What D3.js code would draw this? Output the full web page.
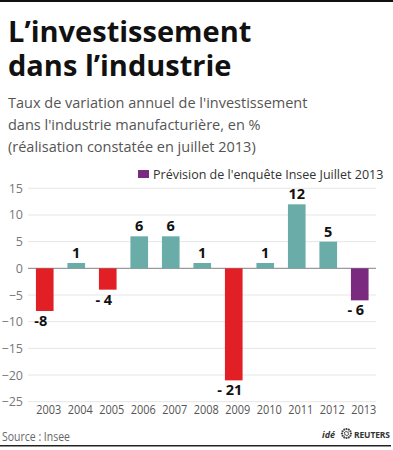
<!DOCTYPE html>
<html>
<head>
<meta charset="utf-8">
<script src="https://cdn.jsdelivr.net/npm/d3@7"></script>
<style>
  body { margin: 0; background: #fff; }
  svg { display: block; font-family: "Open Sans", "Noto Sans", sans-serif; }
</style>
</head>
<body>
<svg id="chart"></svg>
<script>
const width = 393, height = 450;

// data
const years = ["2003", "2004", "2005", "2006", "2007", "2008", "2009", "2010", "2011", "2012", "2013"];
const values = [-8, 1, -4, 6, 6, 1, -21, 1, 12, 5, -6];
const valueLabels = ["-8", "1", "- 4", "6", "6", "1", "- 21", "1", "12", "5", "- 6"];
const forecast = [false, false, false, false, false, false, false, false, false, false, true];
const yTicks = [15, 10, 5, 0, -5, -10, -15, -20, -25];

const red = "#e31f26", teal = "#6aaca8", purple = "#7a2b7f";

const svg = d3.select("#chart").attr("width", width).attr("height", height);

// top rule
svg.append("rect").attr("x", 0).attr("y", 0).attr("width", width).attr("height", 2).attr("fill", "#111");

// title
const titleLines = ["L\u2019investissement", "dans l\u2019industrie"];
svg.append("g").selectAll("text")
    .data(titleLines)
    .enter().append("text")
    .attr("x", 8)
    .attr("y", (d, i) => 42 + i * 34)
    .attr("font-size", 29)
    .attr("font-weight", "bold")
    .attr("fill", "#111")
    .text(d => d);

// subtitle
const subLines = [
    "Taux de variation annuel de l'investissement",
    "dans l'industrie manufacturière, en %",
    "(réalisation constatée en juillet 2013)"
];
svg.append("g").selectAll("text")
    .data(subLines)
    .enter().append("text")
    .attr("x", 8)
    .attr("y", (d, i) => 108 + i * 22)
    .attr("font-size", 14.5)
    .attr("fill", "#555")
    .text(d => d);

// legend
svg.append("rect").attr("x", 138).attr("y", 170).attr("width", 11).attr("height", 8).attr("fill", purple);
svg.append("text")
    .attr("x", 153).attr("y", 178.5)
    .attr("font-size", 12.5)
    .attr("fill", "#333")
    .text("Prévision de l'enquête Insee Juillet 2013");

// scales
const x = d3.scaleBand().domain(years).range([29, 375.5]).paddingInner(0.44).paddingOuter(0.22);
const y = d3.scaleLinear().domain([-25, 15]).range([401.7, 188.3]);

// grid
svg.append("g").selectAll("line")
    .data(yTicks)
    .enter().append("line")
    .attr("x1", 28).attr("x2", 376)
    .attr("y1", d => y(d)).attr("y2", d => y(d))
    .attr("stroke", d => d === 0 ? "#9a9a9a" : "#e6e6e6")
    .attr("stroke-width", d => d === 0 ? 1.2 : 1);

// y labels
const yAxis = svg.append("g")
    .attr("transform", "translate(23,0)")
    .call(d3.axisLeft(y).tickValues(yTicks).tickSize(0).tickPadding(0));
yAxis.select(".domain").remove();
yAxis.selectAll("text")
    .attr("font-family", "\"Open Sans\", sans-serif")
    .attr("font-size", 12.5)
    .attr("fill", "#777");

// x labels
const xAxis = svg.append("g")
    .attr("transform", "translate(4,405)")
    .call(d3.axisBottom(x).tickSize(0).tickPadding(0));
xAxis.select(".domain").remove();
xAxis.selectAll("text")
    .attr("font-family", "\"Open Sans\", sans-serif")
    .attr("font-size", 12.5)
    .attr("fill", "#555")
    .attr("textLength", 25)
    .attr("lengthAdjust", "spacingAndGlyphs");

// bars
const rows = years.map((yr, i) => ({ year: yr, value: values[i], label: valueLabels[i], forecast: forecast[i] }));

svg.append("g").selectAll("rect")
    .data(rows)
    .enter().append("rect")
    .attr("x", d => x(d.year))
    .attr("width", x.bandwidth())
    .attr("y", d => y(Math.max(0, d.value)))
    .attr("height", d => Math.abs(y(d.value) - y(0)))
    .attr("fill", d => d.forecast ? purple : (d.value < 0 ? red : teal));

// value labels
svg.append("g").selectAll("text")
    .data(rows)
    .enter().append("text")
    .attr("x", d => x(d.year) + x.bandwidth() / 2 - (d.value < 0 ? 4 : 0))
    .attr("y", d => d.value < 0 ? y(d.value) + 15 : y(d.value) - 5)
    .attr("text-anchor", "middle")
    .attr("font-size", 14.5)
    .attr("font-weight", "bold")
    .attr("fill", "#111")
    .text(d => d.label);

// footer
svg.append("text")
    .attr("x", 2).attr("y", 441)
    .attr("font-size", 12.5)
    .attr("fill", "#666")
    .attr("textLength", 68)
    .attr("lengthAdjust", "spacingAndGlyphs")
    .text("Source : Insee");

svg.append("text")
    .attr("x", 322).attr("y", 438)
    .attr("font-size", 9)
    .attr("font-style", "italic")
    .attr("font-weight", "bold")
    .attr("fill", "#333")
    .text("idé");

// small dotted reuters mark
const logo = svg.append("g").attr("transform", "translate(346.5,433.5)");
d3.range(12).forEach(i => {
    const a = i / 12 * Math.PI * 2;
    logo.append("circle")
        .attr("cx", Math.cos(a) * 4.5).attr("cy", Math.sin(a) * 4.5)
        .attr("r", 1.1).attr("fill", "#444");
});
d3.range(6).forEach(i => {
    const a = i / 6 * Math.PI * 2 + 0.3;
    logo.append("circle")
        .attr("cx", Math.cos(a) * 2).attr("cy", Math.sin(a) * 2)
        .attr("r", 0.8).attr("fill", "#444");
});

svg.append("text")
    .attr("x", 354).attr("y", 438)
    .attr("font-size", 8.5)
    .attr("font-weight", "bold")
    .attr("fill", "#333")
    .attr("textLength", 36)
    .text("REUTERS");

// bottom rule
svg.append("rect").attr("x", 0).attr("y", 445).attr("width", 391).attr("height", 1.5).attr("fill", "#222");
</script>
</body>
</html>
